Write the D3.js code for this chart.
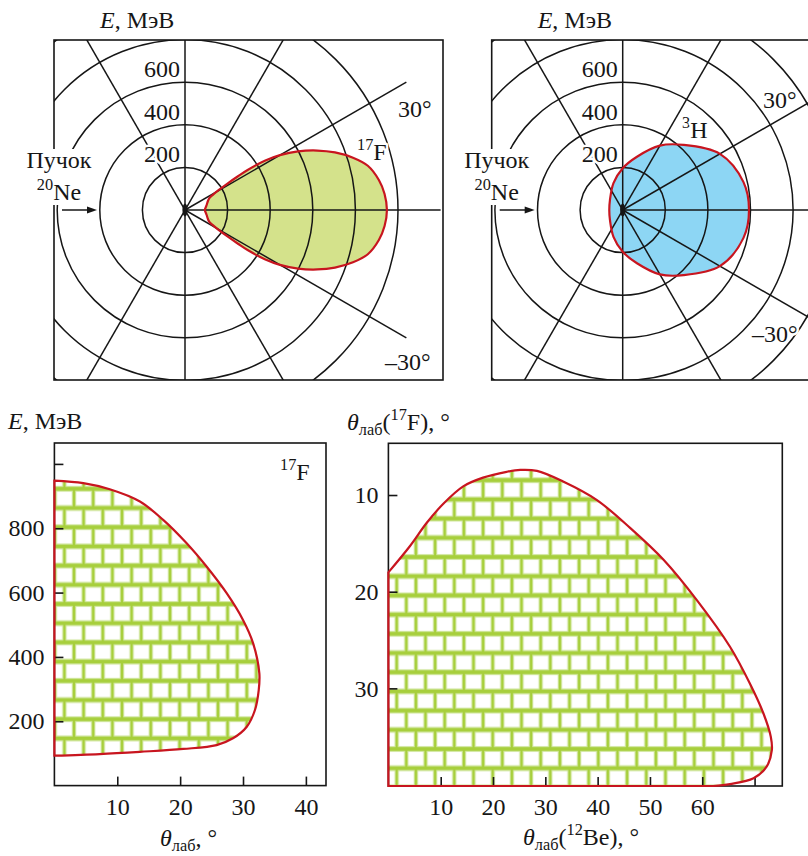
<!DOCTYPE html>
<html>
<head>
<meta charset="utf-8">
<script src="https://cdn.jsdelivr.net/npm/d3@7"></script>
<style>
  body { margin: 0; background: #fff; }
  svg { display: block; }
  text { font-family: "Liberation Serif", "DejaVu Serif", serif; fill: #161616; }
</style>
</head>
<body>
<script>
// ---- Polar grid: energy rings (MeV) and spoke angles (deg) ----
const energyRings = [200, 400, 600, 800, 1000];
const ringLabels = [200, 400, 600];
const spokeAngles = [-120, -90, -60, -30, 0, 30, 60, 90, 120];
const spokeLength = 1200;

// ---- 17F kinematic boundary: lab angle (deg) vs energy (MeV) ----
const f17Theta  = [0, 4.6, 8.8, 13.6, 17.3, 21.0, 24.2, 27.4, 30.0, 31.6, 32.6, 32.5, 31.9, 30.6, 28.4, 25.8, 20.5, 13.6, 7.2, 0];
const f17Energy = [948, 940, 921, 883, 826, 754, 681, 598, 515, 443, 349, 297, 235, 183, 147, 126, 114, 105, 98, 93];

// ---- 3H boundary (upper half, mirrored about the beam axis) ----
const h3Theta  = [0, 13, 30, 47, 60, 75, 90, 109, 142, 180];
const h3Energy = [593, 582, 527, 418, 349, 259, 196, 133, 76, 63];

// ---- Correlation of lab angles: 12Be (x) vs 17F (y) ----
const be12Theta   = [0, 4.1, 7.3, 10.5, 14.3, 18.1, 22.6, 25.2, 28.4, 33.4, 39.8, 46.2, 52.6, 59.0, 65.3, 69.1, 71.7, 73.1, 73.3, 72.3, 69.8, 65.3, 62.1];
const f17ThetaCor = [18.0, 15.3, 12.9, 10.9, 9.1, 8.2, 7.6, 7.4, 7.5, 8.6, 10.5, 13.4, 16.7, 20.9, 25.7, 29.5, 32.6, 35.0, 36.4, 38.1, 39.3, 39.9, 40.1];

// ---- Tick values ----
const energyTicks = [200, 400, 600, 800, 1000];
const angleTicksA = [10, 20, 30, 40];
const angleTicksB = [10, 20, 30, 40, 50, 60, 70];
const angleTicksBy = [10, 20, 30];

const RED = "#c8151f";
const INK = "#161616";
const FS = 24;
const SERIF = '"Liberation Serif", "DejaVu Serif", serif';

const svg = d3.select("body").append("svg").attr("width", 808).attr("height", 856)
  .attr("font-family", SERIF);
const defs = svg.append("defs");

// text with italic / superscript / subscript pieces
function rich(sel, x, y, parts, size, anchor) {
  const t = sel.append("text").attr("x", x).attr("y", y)
    .attr("font-size", size).attr("text-anchor", anchor || "start");
  let shift = 0;
  parts.forEach(p => {
    const s = p.sup ? -0.40 * size : p.sub ? 0.22 * size : 0;
    const ts = t.append("tspan").attr("dy", s - shift).text(p.t);
    if (p.sup || p.sub) ts.attr("font-size", size * 0.68);
    if (p.i) ts.attr("font-style", "italic");
    shift = s;
  });
  return t;
}
function halo(t, w) {
  t.attr("stroke", "#fff").attr("stroke-width", w || 6).attr("paint-order", "stroke").attr("stroke-linejoin", "round");
  return t;
}

// brick hatch used for the kinematic regions
function brickPattern(id, ox, oy) {
  const W = 19.2, H = 38.4;
  const p = defs.append("pattern").attr("id", id).attr("patternUnits", "userSpaceOnUse")
    .attr("x", ox).attr("y", oy).attr("width", W).attr("height", H);
  p.append("rect").attr("width", W).attr("height", H).attr("fill", "#fff");
  const layers = [["#d3e8a4", 6, 4.4], ["#a7cf3c", 3.6, 2.4]];
  layers.forEach(([c, hw, vw]) => {
    [0, H / 2, H].forEach(y => p.append("line").attr("x1", 0).attr("x2", W).attr("y1", y).attr("y2", y)
      .attr("stroke", c).attr("stroke-width", hw));
    [0, W].forEach(x => p.append("line").attr("x1", x).attr("x2", x).attr("y1", 0).attr("y2", H / 2)
      .attr("stroke", c).attr("stroke-width", vw));
    p.append("line").attr("x1", W / 2).attr("x2", W / 2).attr("y1", H / 2).attr("y2", H)
      .attr("stroke", c).attr("stroke-width", vw);
  });
}
brickPattern("bricksA", 54.8, 604);
brickPattern("bricksB", 387.1, 749);

// ---------------- polar panels ----------------
const rScale = d3.scaleLinear().domain([0, 1000]).range([0, 213]);

function mirrored(thetas, energies) {
  const upper = thetas.map((t, i) => [t, energies[i]]);
  const lower = upper.slice(1, -1).reverse().map(([t, e]) => [-t, e]);
  return upper.concat(lower);
}

function polarPanel(o) {
  const g = svg.append("g");
  const clipId = o.id + "-clip";
  defs.append("clipPath").attr("id", clipId).append("rect")
    .attr("x", o.x0).attr("y", o.y0).attr("width", o.w).attr("height", o.h);
  const toXY = ([t, e]) => {
    const a = t * Math.PI / 180, r = rScale(e);
    return [o.cx + r * Math.cos(a), o.cy - r * Math.sin(a)];
  };
  const area = d3.line().curve(d3.curveCatmullRomClosed.alpha(0.5));
  const shapePath = area(o.shape.map(toXY));

  const inner = g.append("g").attr("clip-path", `url(#${clipId})`);
  inner.append("path").attr("d", shapePath).attr("fill", o.fill);
  inner.selectAll("circle.ring").data(energyRings).join("circle").attr("class", "ring")
    .attr("cx", o.cx).attr("cy", o.cy).attr("r", d => rScale(d))
    .attr("fill", "none").attr("stroke", INK).attr("stroke-width", 1.5);
  inner.selectAll("line.spoke").data(spokeAngles).join("line").attr("class", "spoke")
    .attr("x1", o.cx).attr("y1", o.cy)
    .attr("x2", d => toXY([d, spokeLength])[0]).attr("y2", d => toXY([d, spokeLength])[1])
    .attr("stroke", INK).attr("stroke-width", 1.5);
  inner.append("path").attr("d", shapePath).attr("fill", "none")
    .attr("stroke", RED).attr("stroke-width", 2.2);

  g.append("rect").attr("x", o.x0).attr("y", o.y0).attr("width", o.w).attr("height", o.h)
    .attr("fill", "none").attr("stroke", INK).attr("stroke-width", 1.6);
  g.append("ellipse").attr("cx", o.cx).attr("cy", o.cy).attr("rx", 2.6).attr("ry", 6.5).attr("fill", INK);

  // ring values
  ringLabels.forEach(v => {
    halo(g.append("text").attr("x", o.cx - 5).attr("y", o.cy - rScale(v) - 5)
      .attr("text-anchor", "end").attr("font-size", FS).text(v), 5);
  });
  // axis title
  rich(g, o.cx - 85, 28, [{ t: "E", i: true }, { t: ",  МэВ" }], FS);

  // beam label with white backing
  const bl = g.append("g");
  const t1 = bl.append("text").attr("x", o.cx - 126).attr("y", 168).attr("font-size", FS).attr("text-anchor", "middle").text("Пучок");
  const t2 = rich(bl, o.cx - 126, 200, [{ t: "20", sup: true }, { t: "Ne" }], FS, "middle");
  const b1 = t1.node().getBBox(), b2 = t2.node().getBBox();
  const bx0 = Math.min(b1.x, b2.x) - 2, bx1 = Math.max(b1.x + b1.width, b2.x + b2.width) + 3;
  bl.insert("rect", "text").attr("x", bx0).attr("y", b1.y + 2).attr("width", bx1 - bx0)
    .attr("height", b2.y + b2.height - b1.y - 2).attr("fill", "#fff");
  // beam arrow
  g.append("line").attr("x1", o.cx - 123).attr("x2", o.cx - 94).attr("y1", o.cy).attr("y2", o.cy)
    .attr("stroke", INK).attr("stroke-width", 1.5);
  g.append("path").attr("d", `M${o.cx - 88},${o.cy} l-10,-3.5 l0,7 z`).attr("fill", INK);

  // angle and particle labels
  halo(rich(g, o.p30[0], o.p30[1], [{ t: "30°" }], FS), 5);
  halo(rich(g, o.m30[0], o.m30[1], [{ t: "–30°" }], FS), 5);
  halo(rich(g, o.tag[0], o.tag[1], o.tagParts, FS), 5);
}

polarPanel({
  id: "pF", x0: 54, y0: 40, w: 389, h: 340, cx: 185, cy: 210,
  shape: mirrored(f17Theta, f17Energy), fill: "#d4e28b",
  p30: [398, 117], m30: [385, 370], tag: [357, 160], tagParts: [{ t: "17", sup: true }, { t: "F" }]
});
polarPanel({
  id: "pH", x0: 491.7, y0: 40, w: 389, h: 340, cx: 622.7, cy: 210,
  shape: mirrored(h3Theta, h3Energy), fill: "#8dd6f4",
  p30: [763, 108], m30: [752, 342], tag: [682, 138], tagParts: [{ t: "3", sup: true }, { t: "H" }]
});

// ---------------- Cartesian panels ----------------
function styleAxis(ax) {
  ax.attr("font-family", SERIF);
  ax.select(".domain").remove();
  ax.selectAll(".tick line").attr("stroke", INK).attr("stroke-width", 1.6);
  ax.selectAll(".tick text").attr("font-size", FS).attr("fill", INK);
}

// E vs lab angle for 17F
(function () {
  const x0 = 54.4, x1 = 326, y0 = 443, y1 = 785.6;
  const x = d3.scaleLinear().domain([0, 43.2]).range([x0, x1]);
  const y = d3.scaleLinear().domain([0, 1065]).range([y1, y0]);
  const g = svg.append("g");
  const line = d3.line().x(d => x(d[0])).y(d => y(d[1])).curve(d3.curveCatmullRom.alpha(0.5));
  const d = line(f17Theta.map((t, i) => [t, f17Energy[i]])) + "Z";
  g.append("path").attr("d", d).attr("fill", "url(#bricksA)");
  g.append("rect").attr("x", x0).attr("y", y0).attr("width", x1 - x0).attr("height", y1 - y0)
    .attr("fill", "none").attr("stroke", INK).attr("stroke-width", 1.6);
  styleAxis(g.append("g").attr("transform", `translate(0,${y1})`)
    .call(d3.axisBottom(x).tickValues(angleTicksA).tickSize(-9).tickPadding(12)));
  styleAxis(g.append("g").attr("transform", `translate(${x0},0)`)
    .call(d3.axisLeft(y).tickValues(energyTicks).tickSize(-9).tickPadding(10)
      .tickFormat(v => v === 1000 ? "" : v)));
  g.append("path").attr("d", d).attr("fill", "none").attr("stroke", RED).attr("stroke-width", 2.2);

  rich(g, 8, 429, [{ t: "E", i: true }, { t: ",  МэВ" }], FS);
  rich(g, 160, 846, [{ t: "θ", i: true }, { t: "лаб", sub: true }, { t: ", °" }], FS);
  rich(g, 280, 480, [{ t: "17", sup: true }, { t: "F" }], FS);
})();

// 17F angle vs 12Be angle
(function () {
  const x0 = 388.4, x1 = 782.3, y0 = 443.3, y1 = 786;
  const x = d3.scaleLinear().domain([0, 75.3]).range([x0, x1]);
  const y = d3.scaleLinear().domain([4.65, 40.1]).range([y0, y1]);
  const g = svg.append("g");
  const line = d3.line().x(d => x(d[0])).y(d => y(d[1])).curve(d3.curveCatmullRom.alpha(0.5));
  const d = line(be12Theta.map((t, i) => [t, f17ThetaCor[i]])) +
    `L${x(0)},${y(f17ThetaCor[f17ThetaCor.length - 1])}Z`;
  g.append("path").attr("d", d).attr("fill", "url(#bricksB)");
  g.append("rect").attr("x", x0).attr("y", y0).attr("width", x1 - x0).attr("height", y1 - y0)
    .attr("fill", "none").attr("stroke", INK).attr("stroke-width", 1.6);
  styleAxis(g.append("g").attr("transform", `translate(0,${y1})`)
    .call(d3.axisBottom(x).tickValues(angleTicksB).tickSize(-9).tickPadding(12)
      .tickFormat(v => v === 70 ? "" : v)));
  styleAxis(g.append("g").attr("transform", `translate(${x0},0)`)
    .call(d3.axisLeft(y).tickValues(angleTicksBy).tickSize(-9).tickPadding(10)));
  g.append("path").attr("d", d).attr("fill", "none").attr("stroke", RED).attr("stroke-width", 2.2);

  rich(g, 347, 430, [{ t: "θ", i: true }, { t: "лаб", sub: true }, { t: "(" }, { t: "17", sup: true }, { t: "F), °" }], FS);
  rich(g, 523, 845, [{ t: "θ", i: true }, { t: "лаб", sub: true }, { t: "(" }, { t: "12", sup: true }, { t: "Be), °" }], FS);
})();
</script>
</body>
</html>
